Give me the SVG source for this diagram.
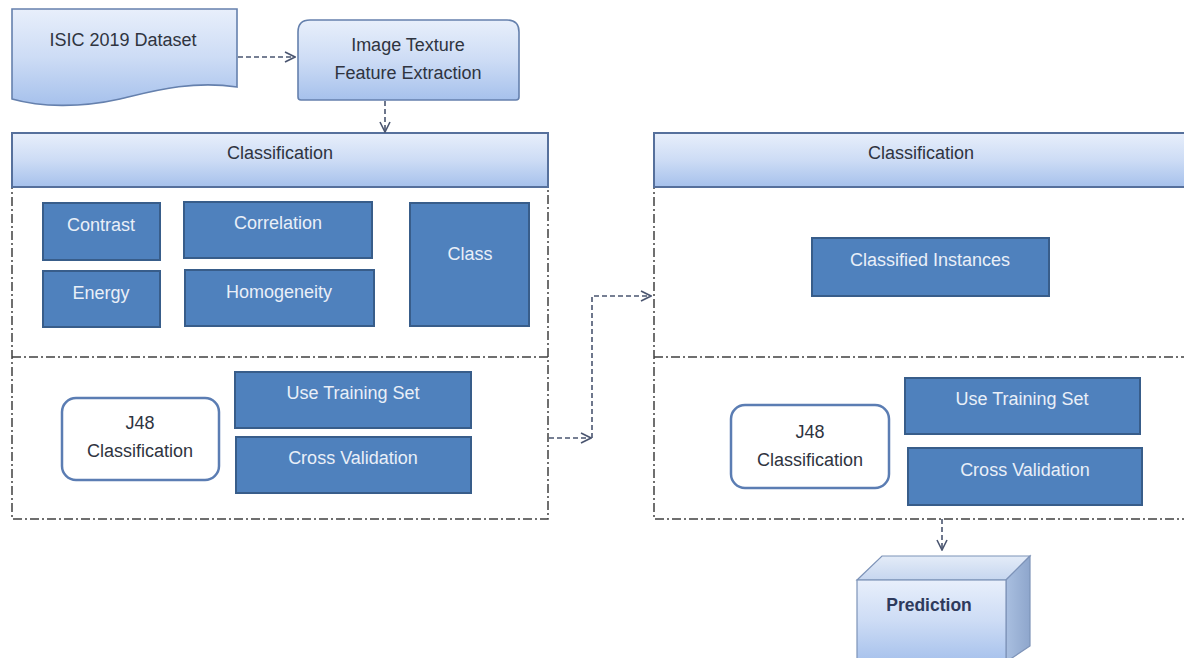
<svg xmlns="http://www.w3.org/2000/svg" width="1184" height="658" viewBox="0 0 1184 658">
<defs>
<linearGradient id="lg" x1="0" y1="0" x2="0" y2="1">
<stop offset="0" stop-color="#e8effb"/>
<stop offset="0.5" stop-color="#cddcf5"/>
<stop offset="1" stop-color="#a6c1ec"/>
</linearGradient>
<linearGradient id="lgTop" x1="0" y1="0" x2="0" y2="1">
<stop offset="0" stop-color="#e4ecf8"/>
<stop offset="1" stop-color="#c6d6ef"/>
</linearGradient>
<linearGradient id="lgSide" x1="0" y1="0" x2="1" y2="0">
<stop offset="0" stop-color="#a9bfe0"/>
<stop offset="1" stop-color="#8ea6cc"/>
</linearGradient>
<marker id="arr" viewBox="0 0 12 12" refX="11" refY="6" markerWidth="12" markerHeight="12" markerUnits="userSpaceOnUse" orient="auto">
<path d="M1,1 L11,6 L1,11" fill="none" stroke="#4a5570" stroke-width="1.6"/>
</marker>
</defs>
<style>
.grad{fill:url(#lg);stroke:#6580ad;stroke-width:1.6}
.hdr{fill:url(#lg);stroke:#56709c;stroke-width:2}
.blue{fill:#4f81bd;stroke:#385d8a;stroke-width:2}
.wt{fill:#e9eff8;font-family:"Liberation Sans",Arial,sans-serif;font-size:18px;text-anchor:middle}
.dk{fill:#2f3440;font-family:"Liberation Sans",Arial,sans-serif;font-size:18px;text-anchor:middle}
.dd{fill:none;stroke:#404040;stroke-width:1.5;stroke-dasharray:9 3 2 3}
.con{fill:none;stroke:#4a5570;stroke-width:1.6;stroke-dasharray:5 3}
.j48{fill:#ffffff;stroke:#5b7db3;stroke-width:2.5}
</style>
<rect x="0" y="0" width="1184" height="658" fill="#ffffff"/>

<g id="isic">
<path class="grad" d="M12,9 H237 V87 C190,80 150,92 120,99 C80,108 40,107 12,99 Z"/>
<text class="dk" x="123" y="46">ISIC 2019 Dataset</text>
</g>

<g id="texture">
<path class="grad" d="M298,32 Q298,20 310,20 H507 Q519,20 519,32 V97 Q519,100 516,100 H301 Q298,100 298,97 Z"/>
<text class="dk" x="408" y="51">Image Texture</text>
<text class="dk" x="408" y="79">Feature Extraction</text>
</g>

<g id="left-container">
<rect class="dd" x="12" y="187" width="536" height="332"/>
<line class="dd" x1="12" y1="357" x2="548" y2="357"/>
<rect class="hdr" x="12" y="133" width="536" height="54"/>
<text class="dk" x="280" y="159">Classification</text>
</g>

<g id="contrast"><rect class="blue" x="43" y="203" width="117" height="57"/><text class="wt" x="101" y="231">Contrast</text></g>
<g id="energy"><rect class="blue" x="43" y="271" width="117" height="56"/><text class="wt" x="101" y="299">Energy</text></g>
<g id="correlation"><rect class="blue" x="184" y="202" width="188" height="56"/><text class="wt" x="278" y="229">Correlation</text></g>
<g id="homogeneity"><rect class="blue" x="185" y="270" width="189" height="56"/><text class="wt" x="279" y="298">Homogeneity</text></g>
<g id="class"><rect class="blue" x="410" y="203" width="119" height="123"/><text class="wt" x="470" y="260">Class</text></g>
<g id="j48-left"><rect class="j48" x="62" y="398" width="157" height="82" rx="14"/><text class="dk" x="140" y="429">J48</text><text class="dk" x="140" y="457">Classification</text></g>
<g id="train-left"><rect class="blue" x="235" y="372" width="236" height="56"/><text class="wt" x="353" y="399">Use Training Set</text></g>
<g id="cross-left"><rect class="blue" x="236" y="437" width="235" height="56"/><text class="wt" x="353" y="464">Cross Validation</text></g>

<g id="right-container">
<rect class="dd" x="654" y="187" width="536" height="332"/>
<line class="dd" x1="654" y1="357" x2="1190" y2="357"/>
<rect class="hdr" x="654" y="133" width="536" height="54"/>
<text class="dk" x="921" y="159">Classification</text>
</g>

<g id="instances"><rect class="blue" x="812" y="238" width="237" height="58"/><text class="wt" x="930" y="266">Classified Instances</text></g>
<g id="j48-right"><rect class="j48" x="731" y="405" width="158" height="83" rx="14"/><text class="dk" x="810" y="438">J48</text><text class="dk" x="810" y="466">Classification</text></g>
<g id="train-right"><rect class="blue" x="905" y="378" width="235" height="56"/><text class="wt" x="1022" y="405">Use Training Set</text></g>
<g id="cross-right"><rect class="blue" x="908" y="448" width="234" height="57"/><text class="wt" x="1025" y="476">Cross Validation</text></g>

<g id="prediction">
<path d="M857,580 L882,556 L1030,556 L1006,580 Z" fill="url(#lgTop)" stroke="#7d93b8" stroke-width="1.2"/>
<path d="M1006,580 L1030,556 L1030,646 L1006,662 Z" fill="url(#lgSide)" stroke="#7d93b8" stroke-width="1.2"/>
<rect x="857" y="580" width="149" height="82" fill="url(#lg)" stroke="#7d93b8" stroke-width="1.2"/>
<text x="929" y="611" font-family="Liberation Sans, Arial, sans-serif" font-size="17.5" font-weight="bold" fill="#2e3a5c" text-anchor="middle">Prediction</text>
</g>

<g id="connectors">
<path class="con" d="M238,57 H295" marker-end="url(#arr)"/>
<path class="con" d="M385,101 V132" marker-end="url(#arr)"/>
<path class="con" d="M549,438 H591" marker-end="url(#arr)"/>
<path class="con" d="M592,438 V296 H651" marker-end="url(#arr)"/>
<path class="con" d="M942,519 V550" marker-end="url(#arr)"/>
</g>
</svg>
